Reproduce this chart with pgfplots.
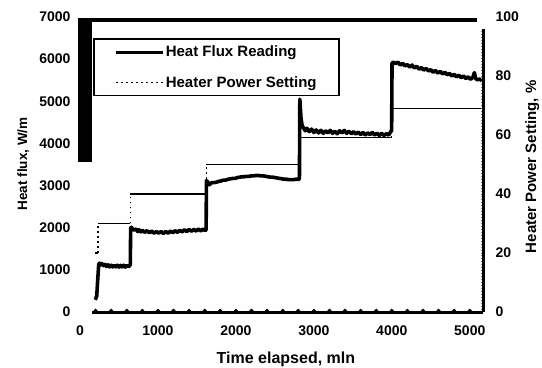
\documentclass[border=0pt]{standalone}
\usepackage{pgfplots}
\pgfplotsset{compat=1.18}
\usepackage{fontspec}
\setmainfont{Liberation Sans}
\usetikzlibrary{calc}
\newcommand\fs[1]{\fontsize{#1bp}{#1bp}\selectfont\bfseries}
\begin{document}
\begin{tikzpicture}
\pgfplotsset{
  common/.style={scale only axis, width=403bp, height=295bp, xmin=0, xmax=5170, clip=false,
    /pgf/number format/assume math mode=true, /pgf/number format/1000 sep={}, scaled ticks=false,
    ticklabel style={font=\fs{14}}},
}
\begin{axis}[common, name=ax, ymin=0, ymax=7000,
  axis line style={draw=none}, major tick length=0pt,
  xtick={0,1000,...,5000}, ytick={0,1000,...,7000},
  yticklabel style={xshift=-6bp}, xticklabel style={yshift=-10bp},
  xlabel={Time elapsed, mln}, ylabel={Heat flux, W/m},
  xlabel style={at={(axis description cs:0.511,-0.159)}, anchor=center, font=\fs{16}},
  ylabel style={at={(axis description cs:-0.141,0.502)}, anchor=center, font=\fs{13.5}},
]
% frame remnants of the scanned chart
\addplot[line width=4bp, forget plot] coordinates {(-26,6935)(5090,6935)};
\addplot[line width=14bp, forget plot] coordinates {(64,3563)(64,6980)};
% zero baseline series
\addplot[line width=3bp, forget plot] coordinates {(150,0)(5170,0)};
\addplot[only marks, mark=*, mark size=1.8bp, forget plot] coordinates {
(200,30)(400,30)(600,30)(800,30)(1000,30)(1200,30)(1400,30)(1600,30)(1800,30)(2000,30)
(2200,30)(2400,30)(2600,30)(2800,30)(3000,30)(3200,30)(3400,30)(3600,30)(3800,30)(4000,30)
(4200,30)(4400,30)(4600,30)(4800,30)(5000,30)};
% heat flux reading
\addplot[line width=3.6bp, line join=round, forget plot] coordinates {
(195,290)(205,330)(215,380)(225,700)(240,1130)(250,1160)(265,1120)(280,1150)(300,1100)(320,1130)
(340,1080)(360,1120)(380,1070)(400,1110)(420,1070)(440,1105)(460,1070)(480,1110)(500,1065)(520,1105)
(540,1070)(560,1110)(580,1065)(600,1105)(620,1075)(640,1100)(645,1100)
(650,1990)(660,2010)(680,1950)(700,1950)(720,1970)(740,1910)(760,1950)(780,1900)(800,1940)(830,1890)
(860,1930)(890,1880)(920,1920)(950,1870)(980,1910)(1010,1870)(1040,1910)(1070,1865)(1100,1910)(1130,1870)
(1160,1920)(1190,1880)(1220,1930)(1250,1890)(1280,1940)(1310,1900)(1340,1950)(1370,1910)(1400,1960)(1430,1915)
(1460,1960)(1490,1920)(1520,1970)(1550,1925)(1580,1970)(1605,1930)(1618,1955)
(1622,3120)(1640,3080)(1660,3020)(1690,3070)(1720,3070)(1750,3080)(1780,3100)(1810,3110)(1840,3130)(1870,3130)
(1900,3150)(1930,3160)(1960,3170)(1990,3170)(2020,3190)(2050,3200)(2080,3210)(2110,3210)(2140,3220)(2170,3220)
(2200,3230)(2230,3230)(2260,3240)(2290,3240)(2320,3230)(2350,3230)(2380,3220)(2410,3210)(2440,3200)(2470,3200)
(2500,3190)(2530,3180)(2560,3170)(2590,3160)(2620,3150)(2650,3150)(2680,3140)(2710,3140)(2740,3140)(2770,3150)
(2800,3150)(2815,3150)
(2820,5050)(2835,4600)(2850,4420)(2870,4360)(2890,4300)(2910,4360)(2940,4280)(2970,4340)(3000,4260)(3030,4320)
(3060,4250)(3090,4310)(3120,4240)(3150,4300)(3180,4250)(3210,4310)(3240,4240)(3270,4290)(3300,4230)(3330,4300)
(3360,4250)(3390,4310)(3420,4240)(3450,4290)(3480,4230)(3510,4280)(3540,4220)(3570,4270)(3600,4210)(3630,4260)
(3660,4200)(3690,4250)(3720,4210)(3750,4260)(3780,4200)(3810,4240)(3840,4190)(3870,4240)(3900,4190)(3930,4230)
(3960,4200)(3990,4290)(3998,4300)
(4003,5900)(4020,5930)(4050,5890)(4080,5930)(4110,5860)(4140,5900)(4170,5840)(4200,5870)(4230,5810)(4260,5860)
(4290,5790)(4320,5830)(4350,5760)(4380,5800)(4410,5740)(4440,5780)(4470,5720)(4500,5750)(4530,5690)(4560,5730)
(4590,5670)(4620,5710)(4650,5650)(4680,5690)(4710,5630)(4740,5660)(4770,5600)(4800,5640)(4830,5580)(4860,5620)
(4890,5560)(4920,5600)(4950,5540)(4980,5580)(5010,5520)(5040,5570)(5060,5680)(5075,5540)(5100,5510)(5130,5530)(5160,5480)};
\end{axis}

\begin{axis}[common, ymin=0, ymax=100,
  axis x line=none, axis y line*=right, y axis line style={draw=none},
  ytick={0,20,...,100}, minor ytick={1,...,95}, tick align=inside,
  major tick length=0pt, minor tick length=2.5bp, minor tick style={line width=0.9bp},
  yticklabel style={xshift=9bp},
  ylabel={Heater Power Setting, \%},
  ylabel style={at={(axis description cs:1.122,0.492)}, anchor=center, font=\fs{15}},
  legend image code/.code={\draw[#1] (0bp,0bp) -- (47bp,0bp);},
  legend cell align=left,
  legend style={at={(axis description cs:0.032,0.929)}, anchor=north west, draw=black,
    line width=1.8bp, fill=white, inner xsep=21bp, inner ysep=5bp, row sep=14bp,
    font=\fs{15}, nodes={inner xsep=1bp, inner ysep=2bp}},
]
\addlegendimage{line width=3bp}
\addlegendentry{Heat Flux Reading}
\addlegendimage{line width=1.3bp, dash pattern=on 1.8bp off 3.2bp}
\addlegendentry{Heater Power Setting}
% right axis line
\addplot[line width=3bp, forget plot] coordinates {(5170,0)(5170,96)};
% heater power setting: levels (solid thin) and steps (dotted)
\addplot[line width=1.1bp, unbounded coords=jump, forget plot] coordinates {
(195,20)(235,20)(235,nan)(228,30)(645,30)(645,nan)(645,40)(1620,40)(1620,nan)
(1620,50)(2820,50)(2820,nan)(2820,59)(4000,59)(4000,nan)(4000,69)(5140,69)};
\addplot[line width=1.3bp, dash pattern=on 1.8bp off 3.2bp, unbounded coords=jump, forget plot] coordinates {
(230,20)(230,30)(230,nan)(645,30)(645,40)(645,nan)(1620,40)(1620,50)(1620,nan)
(2820,50)(2820,59)(2820,nan)(4000,59)(4000,69)};
\end{axis}
\pgfresetboundingbox
\path ($(ax.south west)+(-80bp,-56bp)$) rectangle ($(ax.north east)+(59bp,17bp)$);
\end{tikzpicture}
\end{document}
